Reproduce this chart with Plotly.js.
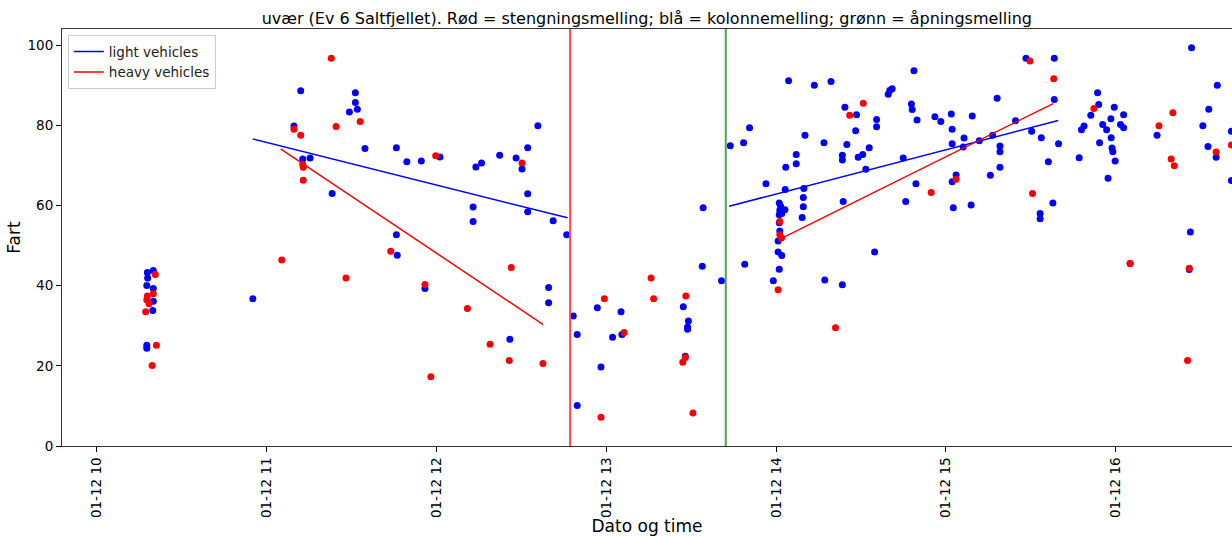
<!DOCTYPE html>
<html>
<head>
<meta charset="utf-8">
<script src="https://cdn.plot.ly/plotly-3.0.1.min.js"></script>
<style>
html,body{margin:0;padding:0;background:#fff;overflow:hidden;}
#chart{width:1232px;height:536px;}
</style>
</head>
<body>
<div id="chart"></div>
<script>
const day = '2018-01-12 ';

// light vehicles (blue) – time of passage, speed
const lightTimes = [
'10:17:48','10:19:54','10:17:54','10:17:36','10:19:54','10:19:54','10:19:42','10:17:36','10:17:36','10:55:06',
'11:12:00','11:31:18','11:31:18','11:29:12','11:32:00','11:09:36','11:34:42','11:45:48','11:49:30','11:54:36',
'12:01:12','11:12:42','11:15:18','11:23:06','11:45:48','11:46:06','11:55:54','12:12:54','12:12:54','12:32:12',
'12:41:12','12:46:00','12:39:36','12:39:36','12:25:54','12:48:18','12:49:42','12:49:42','12:13:54','12:15:54',
'12:22:18','12:28:06','12:30:12','12:32:12','12:35:48','12:32:12','12:56:48','13:05:12','13:02:12','13:05:30',
'12:58:06','13:27:12','13:29:00','13:28:42','13:28:42','13:27:54','13:33:54','13:34:12','13:40:42','13:43:48',
'13:48:30','13:50:36','14:04:24','14:13:30','14:19:24','14:48:42','13:56:24','14:03:24','14:07:06','14:07:06',
'14:10:12','14:16:54','14:24:18','14:28:24','14:28:06','14:25:00','14:23:24','14:23:24','14:29:00','14:30:36',
'14:32:54','14:35:30','14:35:30','14:31:42','14:39:36','14:40:12','14:41:00','14:47:48','14:48:06','14:49:48',
'14:44:54','14:49:24','14:45:48','14:23:42','14:34:48','14:01:06','14:01:36','14:03:06','14:01:18','14:02:00',
'14:01:06','14:01:06','14:01:18','14:00:42','14:00:42','14:02:00','14:09:48','14:09:36','14:09:36','14:09:12',
'14:03:12','14:01:06','13:59:00','13:48:54','14:17:12','14:23:24','14:56:06','14:58:12','15:01:54','15:02:12',
'15:02:12','15:06:24','15:06:06','15:03:36','15:02:12','15:02:36','15:08:54','15:09:18','15:11:48','15:16:30',
'15:18:06','15:19:06','15:19:06','15:19:06','15:15:42','15:24:36','15:28:18','15:30:18','15:33:42','15:36:12',
'15:33:18','15:33:18','15:37:48','15:38:18','15:38:18','15:39:48','15:47:06','15:47:54','15:48:48','15:51:12',
'15:53:36','15:54:00','15:59:30','16:02:48','15:58:18','15:55:24','15:56:48','16:01:42','16:02:48','15:58:24',
'15:54:18','15:58:42','15:59:00','15:59:48','15:57:18','16:05:06','16:14:36','16:26:48','16:35:54','16:32:54',
'16:30:48','16:32:36','16:35:30','16:40:54','16:40:54','16:26:24','16:26:00'
];
const lightSpeed = [
43.3,43.8,41.9,40.0,39.3,36.1,33.8,25.1,24.4,36.7,
88.6,88.1,85.7,83.3,84.0,79.8,74.2,74.4,70.9,71.1,
72.1,71.6,71.8,63.0,52.7,47.6,39.3,59.6,56.0,58.4,
56.2,52.7,39.5,35.7,26.6,32.4,27.8,10.1,69.6,70.6,
72.5,71.8,69.1,74.4,79.9,62.9,34.5,33.5,27.1,27.8,
19.7,34.7,31.2,29.7,29.1,22.4,44.8,59.4,41.2,74.9,
75.6,79.4,91.1,90.0,90.9,93.6,65.4,69.5,72.7,70.4,
77.5,75.6,84.5,82.6,78.6,75.2,72.5,71.3,72.0,72.7,
74.4,81.4,79.6,69.0,87.7,88.7,89.1,85.3,83.9,81.3,
71.8,65.4,61.0,61.0,48.4,60.6,59.8,58.9,58.8,58.0,
57.7,55.7,53.6,51.1,48.4,47.5,64.2,62.0,59.7,57.0,
64.0,44.1,41.2,45.3,41.4,40.2,82.1,80.9,82.8,79.0,
75.4,76.8,74.6,67.6,65.9,59.4,60.1,82.3,76.1,77.5,
86.7,74.8,73.4,69.5,67.5,81.1,96.7,78.5,76.9,70.9,
58.0,56.7,60.6,86.4,96.7,75.4,71.9,78.9,79.8,82.5,
88.1,85.2,84.5,82.6,81.6,80.2,78.9,80.2,79.4,76.9,
75.6,74.3,73.4,71.1,66.8,45.5,77.5,99.3,90.0,84.0,
79.9,74.7,72.0,78.5,66.2,53.4,44.0
];

// heavy vehicles (red)
const heavyTimes = [
'10:20:36','10:17:48','10:19:54','10:17:36','10:18:24','10:17:12','10:21:00','10:19:30','11:05:18','11:22:48',
'11:33:00','11:24:30','11:09:36','11:12:00','11:59:42','11:12:42','11:12:54','11:12:54','11:43:48','11:28:00',
'11:55:54','11:58:00','12:10:54','12:26:24','12:18:54','12:25:42','12:37:36','12:30:12','12:59:18','13:06:18',
'12:58:06','13:15:48','13:16:42','13:28:06','13:27:54','13:27:00','13:30:36','14:26:00','14:30:48','14:01:18',
'14:01:18','14:01:54','14:00:42','14:21:00','14:54:48','15:03:36','15:29:42','15:30:36','15:38:06','15:52:18',
'16:05:06','16:20:12','16:15:18','16:19:36','16:20:42','16:35:30','16:40:54','16:26:00','16:25:24'
];
const heavySpeed = [
42.8,37.4,38.0,36.5,35.5,33.5,25.1,20.1,46.4,96.7,
80.9,79.7,79.0,77.5,72.4,70.2,69.5,66.3,48.6,41.9,
40.3,17.3,34.3,44.5,25.4,21.3,20.6,70.6,36.7,28.3,
7.2,41.9,36.7,37.4,22.1,20.9,8.2,82.5,85.5,56.0,
52.7,51.9,39.0,29.5,63.2,66.5,96.0,63.0,91.6,84.2,
45.5,83.1,79.9,71.6,69.9,73.3,75.1,44.3,21.3
];

// trend segments (before closing / after opening)
const lightFitTimes = [['10:55:00','12:46:18'],['13:43:24','15:39:42']];
const lightFitSpeed = [[76.6,56.9],[59.8,81.2]];
const heavyFitTimes = [['11:04:54','12:37:42'],['14:01:42','15:37:54']];
const heavyFitSpeed = [[74.1,30.3],[51.7,85.4]];

// messages: closing (red) and opening (green)
const closingTime = '12:47:12';
const openingTime = '13:42:12';

const viewStart = '09:47:38';
const viewEnd = '16:41:06';

const ts = a => a.map(s => day + s);
function segs(times, speeds){
  const x = [], y = [];
  times.forEach((seg, i) => {
    if (i) { x.push(null); y.push(null); }
    x.push(...ts(seg)); y.push(...speeds[i]);
  });
  return {x, y};
}
const lf = segs(lightFitTimes, lightFitSpeed);
const hf = segs(heavyFitTimes, heavyFitSpeed);

const font = 'DejaVu Sans, sans-serif';
const data = [
  {type:'scatter', mode:'markers', x:ts(lightTimes), y:lightSpeed, showlegend:false,
   marker:{color:'#0000ff', size:7}, hoverinfo:'x+y'},
  {type:'scatter', mode:'markers', x:ts(heavyTimes), y:heavySpeed, showlegend:false,
   marker:{color:'#ff0000', size:7}, hoverinfo:'x+y'},
  {type:'scatter', mode:'lines', x:lf.x, y:lf.y, name:'light vehicles',
   line:{color:'#0000ff', width:1.5}},
  {type:'scatter', mode:'lines', x:hf.x, y:hf.y, name:'heavy vehicles',
   line:{color:'#ff0000', width:1.5}}
];

const layout = {
  width:1232, height:536,
  margin:{l:62, r:0, t:29, b:90},
  paper_bgcolor:'#fff', plot_bgcolor:'#fff',
  font:{family:font, size:13.5, color:'#000'},
  title:{text:'uvær (Ev 6 Saltfjellet). Rød = stengningsmelling; blå = kolonnemelling; grønn = åpningsmelling',
         font:{family:font, size:16, color:'#000'}, x:0.525, xanchor:'center', y:0.965, yanchor:'middle'},
  showlegend:true,
  legend:{x:0.005, y:0.985, xanchor:'left', yanchor:'top', bgcolor:'rgba(255,255,255,0.8)',
          bordercolor:'#cccccc', borderwidth:1, font:{family:font, size:13.5, color:'#222'},
          itemwidth:30, tracegroupgap:0},
  xaxis:{type:'date', range:[day+viewStart, day+viewEnd], tick0:day+'10:00', dtick:3600000,
         tickformat:'%m-%d %H', tickangle:-90, ticks:'outside', ticklen:5, tickcolor:'#000',
         showgrid:false, zeroline:false, showline:true, linecolor:'#333', linewidth:1, mirror:true,
         tickfont:{family:font, size:13.5, color:'#000'},
         title:{text:'Dato og time', font:{family:font, size:17, color:'#000'}, standoff:2}},
  yaxis:{range:[0,104], tickvals:[0,20,40,60,80,100], ticks:'outside', ticklen:5, tickcolor:'#000',
         showgrid:false, zeroline:false, showline:true, linecolor:'#333', linewidth:1,
         tickfont:{family:font, size:13.5, color:'#000'},
         title:{text:'Fart', font:{family:font, size:17, color:'#000'}, standoff:2}},
  shapes:[
    {type:'line', xref:'x', yref:'paper', x0:day+closingTime, x1:day+closingTime, y0:0, y1:1,
     line:{color:'#ff4d4d', width:2}},
    {type:'line', xref:'x', yref:'paper', x0:day+openingTime, x1:day+openingTime, y0:0, y1:1,
     line:{color:'#4da64d', width:2}}
  ]
};

Plotly.newPlot('chart', data, layout, {displayModeBar:false, staticPlot:true});
</script>
</body>
</html>
